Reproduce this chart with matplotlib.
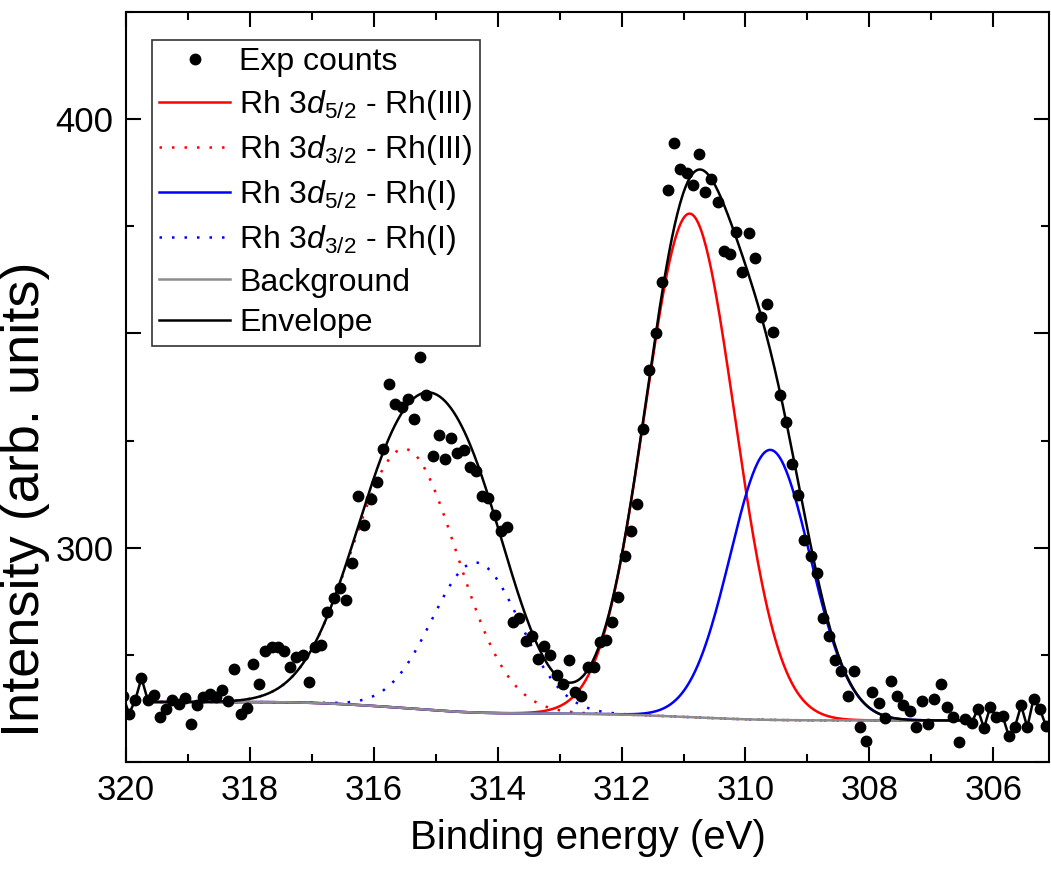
import numpy as np
import matplotlib
matplotlib.use("Agg")
import matplotlib.pyplot as plt
from matplotlib.ticker import MultipleLocator, FuncFormatter

plt.rcParams["font.family"] = ["Liberation Sans", "DejaVu Sans"]
plt.rcParams["mathtext.fontset"] = "custom"
plt.rcParams["mathtext.rm"] = "Liberation Sans"
plt.rcParams["mathtext.it"] = "Liberation Sans:italic"

# experimental counts, 0.1 eV steps starting at 320.05 eV
counts = [
    265.5, 261.2, 264.5, 269.6, 264.5, 265.7, 260.6, 262.4, 264.5, 263.6,
    265.0, 258.9, 263.2, 265.1, 265.9, 265.1, 266.8, 264.2, 271.7, 261.2,
    262.6, 272.9, 268.2, 276.0, 276.8, 276.8, 276.0, 272.1, 274.4, 275.0,
    268.6, 276.8, 277.2, 285.0, 288.2, 290.6, 287.7, 296.4, 312.1, 305.4,
    311.3, 315.3, 323.1, 338.1, 333.6, 332.9, 334.6, 330.0, 344.5, 335.7,
    321.4, 326.2, 320.8, 325.6, 322.1, 322.9, 318.8, 317.9, 312.0, 311.6,
    307.7, 303.9, 304.8, 282.6, 283.6, 278.2, 279.3, 274.1, 277.0, 275.0,
    270.2, 268.2, 273.7, 266.3, 265.3, 272.1, 272.1, 278.1, 278.5, 282.6,
    288.5, 298.0, 303.8, 310.1, 327.8, 341.4, 350.0, 362.1, 383.5, 394.5,
    388.3, 387.4, 384.6, 391.9, 383.1, 386.0, 380.7, 369.2, 368.5, 373.7,
    364.4, 373.4, 367.7, 353.9, 356.8, 350.4, 335.6, 329.3, 319.6, 312.2,
    301.9, 298.0, 294.1, 283.6, 279.5, 273.8, 271.3, 265.5, 271.3, 258.2,
    254.8, 266.3, 263.7, 260.3, 269.0, 265.5, 263.4, 262.0, 258.1, 264.3,
    258.9, 264.7, 268.1, 262.8, 260.4, 254.6, 260.0, 259.0, 262.4, 257.9,
    262.8, 260.6, 260.8, 256.1, 258.2, 263.2, 258.1, 264.7, 262.4, 258.5,
]
energy = np.round(320.05 - 0.1 * np.arange(len(counts)), 2)

# fitted components: centre (eV), height above background, FWHM (eV)
comp_labels = [r"Rh 3$d_{5/2}$ - Rh(III)", r"Rh 3$d_{3/2}$ - Rh(III)",
               r"Rh 3$d_{5/2}$ - Rh(I)", r"Rh 3$d_{3/2}$ - Rh(I)"]
comp_centre = [310.90, 315.50, 309.60, 314.35]
comp_height = [117.5, 60.5, 63.0, 35.0]
comp_fwhm = [1.70, 1.99, 1.52, 1.67]
comp_color = ["#ff0000", "#ff0000", "#0000ff", "#0000ff"]
comp_dotted = [False, True, False, True]
bg_high, bg_low = 264.0, 259.7       # Shirley end points
fit_range = (319.65, 306.45)

xf = np.linspace(fit_range[0], fit_range[1], 600)


def gauss(x, c, h, w):
    return h * np.exp(-4 * np.log(2) * (x - c) ** 2 / w ** 2)


peaks = [gauss(xf, c, h, w) for c, h, w in zip(comp_centre, comp_height, comp_fwhm)]
total = np.sum(peaks, axis=0)
cum = np.concatenate([[0], np.cumsum((total[1:] + total[:-1]) / 2)])[::-1]
cum = cum - cum.min()
bg = bg_low + (bg_high - bg_low) * cum / cum.max()
envelope = bg + total

env_x = np.concatenate([energy[:5], xf, energy[136:]])
env_y = np.concatenate([counts[:5], envelope, counts[136:]])

fig = plt.figure(figsize=(10.51, 8.74), dpi=100)
ax = fig.add_axes([126 / 1051, 1 - 762 / 874, 923 / 1051, 750 / 874])

ax.plot(energy, counts, "o", color="black", ms=7.5, label="Exp counts", zorder=5)
for lab, p, col, dot in zip(comp_labels, peaks, comp_color, comp_dotted):
    ax.plot(xf, bg + p, color=col, lw=1.8, ls=(0, (1, 4)) if dot else "-", label=lab, zorder=2)
ax.plot(xf, bg, color="#8c8c8c", lw=1.8, label="Background", zorder=3)
ax.plot(env_x, env_y, color="black", lw=1.8, label="Envelope", zorder=4)

ax.set_xlim(320, 305.1)
ax.set_ylim(250, 425)
ax.xaxis.set_major_locator(MultipleLocator(2))
ax.xaxis.set_minor_locator(MultipleLocator(1))
ax.yaxis.set_major_locator(MultipleLocator(50))
ax.yaxis.set_minor_locator(MultipleLocator(25))
ax.yaxis.set_major_formatter(FuncFormatter(lambda v, _: f"{v:.0f}" if v % 100 == 0 else ""))
ax.tick_params(which="both", direction="in", top=True, right=True, width=1.5)
ax.tick_params(which="major", length=11, labelsize=25, pad=9)
ax.tick_params(which="minor", length=5.5)
for s in ax.spines.values():
    s.set_linewidth(1.5)

ax.set_xlabel("Binding energy (eV)", fontsize=29, labelpad=8)
ax.set_ylabel("Intensity (arb. units)", fontsize=39)
ax.yaxis.set_label_coords(-0.082, 0.35)

leg = ax.legend(loc="upper left", bbox_to_anchor=(0.0282, 0.9627), fontsize=23,
                frameon=True, fancybox=False, edgecolor="#333333", framealpha=1,
                handlelength=2.2, handletextpad=0.3, labelspacing=0.34,
                borderpad=0.23, borderaxespad=0, numpoints=1)
leg.get_frame().set_linewidth(1.2)

fig.savefig("out.png", dpi=100)
